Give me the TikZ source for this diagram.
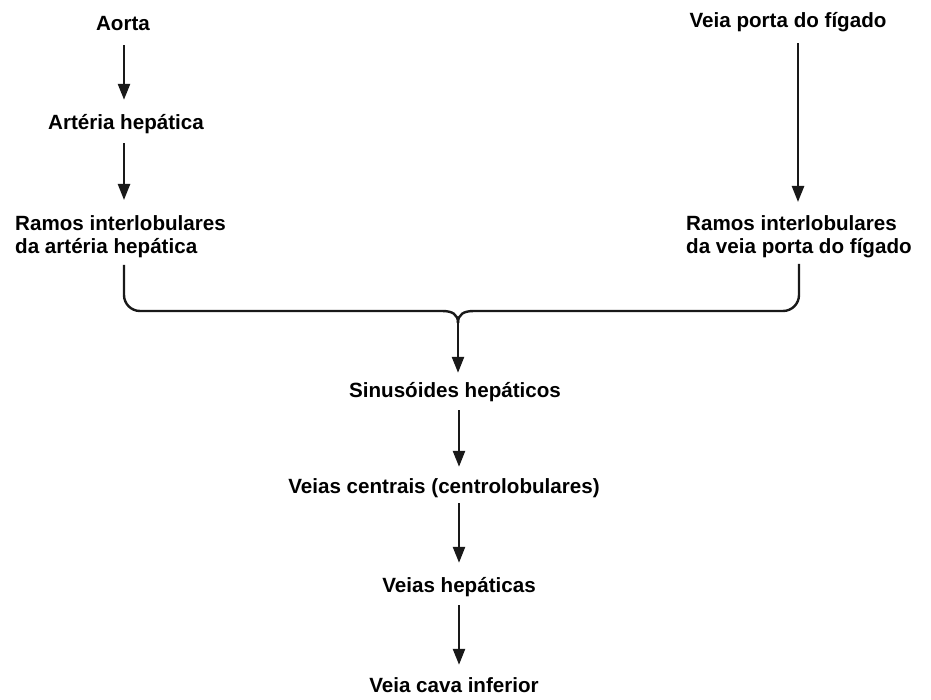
\documentclass[tikz,border=0pt]{standalone}
\usepackage{fontspec}
\setmainfont{Liberation Sans}
\usetikzlibrary{arrows.meta}
\begin{document}
\begin{tikzpicture}[x=1pt,y=-1pt,
  lbl/.style={inner sep=0pt, text height=15.5pt, text depth=4.5pt, anchor=base,
    font=\fontsize{20.6}{23}\selectfont\bfseries},
  lbl2/.style={inner sep=0pt, anchor=north west, align=left,
    font=\fontsize{20.6}{23}\selectfont\bfseries},
  conn/.style={line width=2.4pt, draw=black!90},
  arr/.style={conn, -{Triangle[length=16pt,width=12pt]}}]
\useasboundingbox[fill=white] (0,0) rectangle (931,700);

% column coordinates
\coordinate (colL) at (124,0);
\coordinate (colR) at (798,0);
\coordinate (colM) at (459,0);

% nodes
\node[lbl] (aorta) at (123,31) {Aorta};
\node[lbl] (art) at (126,130) {Artéria hepática};
\node[lbl2] (ramosA) at (15,215) {Ramos interlobulares\\da artéria hepática};
\node[lbl] (veia) at (788,28) {Veia porta do fígado};
\node[lbl2] (ramosB) at (686,215) {Ramos interlobulares\\da veia porta do fígado};
\node[lbl] (sin) at (455,397) {Sinusóides hepáticos};
\node[lbl] (vc) at (444,493) {Veias centrais (centrolobulares)};
\node[lbl] (vh) at (459,592) {Veias hepáticas};
\node[lbl] (vci) at (454,692) {Veia cava inferior};

% left column arrows
\draw[arr, shorten <=9.5pt, shorten >=14.5pt] (aorta.south -| colL) -- (art.north -| colL);
\draw[arr, shorten <=8.5pt, shorten >=15pt] (art.south -| colL) -- (ramosA.north -| colL);
% right column arrow
\draw[arr, shorten <=10.5pt, shorten >=13pt] (veia.south -| colR) -- (ramosB.north -| colR);

% brace
\coordinate (brL) at (124,265);
\coordinate (brR) at (799,264);
\coordinate (cusp) at (458,323);
\draw[conn] (brL) -- (124,295) arc[start angle=180, end angle=270, radius=16pt]
  -- (442,311) .. controls (452,311) and (458,314) .. (cusp);
\draw[conn] (brR) -- (799,295) arc[start angle=0, end angle=-90, radius=16pt]
  -- (474,311) .. controls (464,311) and (458,314) .. (cusp);
\draw[arr, shorten >=8.5pt] (cusp) -- (sin.north -| cusp);

% bottom column arrows
\draw[arr, shorten <=8.5pt, shorten >=10.5pt] (sin.south -| colM) -- (vc.north -| colM);
\draw[arr, shorten <=5.5pt, shorten >=13.5pt] (vc.south -| colM) -- (vh.north -| colM);
\draw[arr, shorten <=8.5pt, shorten >=11.5pt] (vh.south -| colM) -- (vci.north -| colM);
\end{tikzpicture}
\end{document}
